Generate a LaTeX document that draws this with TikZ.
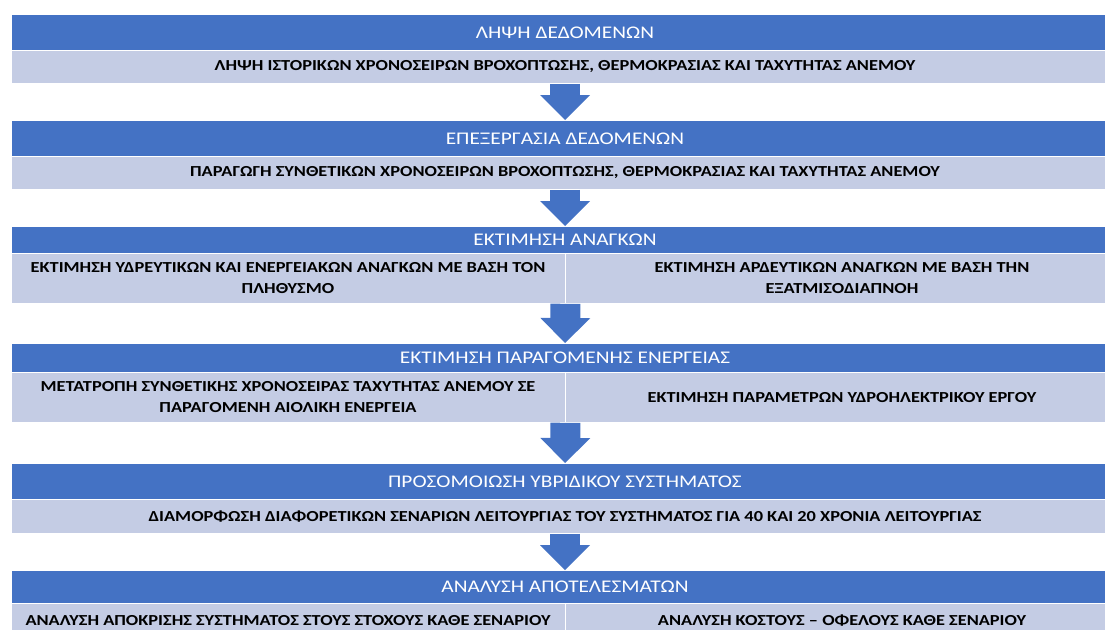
\documentclass[tikz,border=0pt]{standalone}
\usepackage{fontspec}
\setmainfont{Carlito}
\newfontfamily\widefont[FakeStretch=1.2]{Carlito}
\usetikzlibrary{arrows.meta}

\definecolor{hdrblue}{RGB}{68,114,196}
\definecolor{subblue}{RGB}{196,204,228}

\tikzset{
    band/.style={draw=white, line width=0.8pt, inner sep=0pt, anchor=north, align=center},
    hdr/.style={band, fill=hdrblue, text=white, minimum width=1108pt,
        font=\widefont\fontsize{17.8}{21}\selectfont},
    sub/.style={band, fill=subblue, text=black, minimum width=1108pt,
        font=\widefont\bfseries\fontsize{15.3}{21}\selectfont},
    half/.style={sub, minimum width=554pt},
    flow/.style={hdrblue, line width=30pt,
        -{Triangle[width=50pt, length=25pt, line width=0pt]}}
}

\begin{document}
\begin{tikzpicture}[x=1pt, y=-1pt]
    \useasboundingbox (0,0) rectangle (1105,629);

    \node[hdr, minimum height=36pt] (hd1) at (565,14) {ΛΗΨΗ ΔΕΔΟΜΕΝΩΝ};
    \node[sub, minimum height=33pt] (sb1) at (565,50)
        {ΛΗΨΗ ΙΣΤΟΡΙΚΩΝ ΧΡΟΝΟΣΕΙΡΩΝ ΒΡΟΧΟΠΤΩΣΗΣ, ΘΕΡΜΟΚΡΑΣΙΑΣ ΚΑΙ ΤΑΧΥΤΗΤΑΣ ΑΝΕΜΟΥ};

    \node[hdr, minimum height=36pt] (hd2) at (565,120) {ΕΠΕΞΕΡΓΑΣΙΑ ΔΕΔΟΜΕΝΩΝ};
    \node[sub, minimum height=33pt] (sb2) at (565,156)
        {ΠΑΡΑΓΩΓΗ ΣΥΝΘΕΤΙΚΩΝ ΧΡΟΝΟΣΕΙΡΩΝ ΒΡΟΧΟΠΤΩΣΗΣ, ΘΕΡΜΟΚΡΑΣΙΑΣ ΚΑΙ ΤΑΧΥΤΗΤΑΣ ΑΝΕΜΟΥ};

    \node[hdr, minimum height=27pt] (hd3) at (565,226) {ΕΚΤΙΜΗΣΗ ΑΝΑΓΚΩΝ};
    \node[half, minimum height=50pt] (sb3l) at (288,253)
        {ΕΚΤΙΜΗΣΗ ΥΔΡΕΥΤΙΚΩΝ ΚΑΙ ΕΝΕΡΓΕΙΑΚΩΝ ΑΝΑΓΚΩΝ ΜΕ ΒΑΣΗ ΤΟΝ\\ΠΛΗΘΥΣΜΟ};
    \node[half, minimum height=50pt] (sb3r) at (842,253)
        {ΕΚΤΙΜΗΣΗ ΑΡΔΕΥΤΙΚΩΝ ΑΝΑΓΚΩΝ ΜΕ ΒΑΣΗ ΤΗΝ\\ΕΞΑΤΜΙΣΟΔΙΑΠΝΟΗ};

    \node[hdr, minimum height=29pt] (hd4) at (565,343) {ΕΚΤΙΜΗΣΗ ΠΑΡΑΓΟΜΕΝΗΣ ΕΝΕΡΓΕΙΑΣ};
    \node[half, minimum height=50pt] (sb4l) at (288,372)
        {ΜΕΤΑΤΡΟΠΗ ΣΥΝΘΕΤΙΚΗΣ ΧΡΟΝΟΣΕΙΡΑΣ ΤΑΧΥΤΗΤΑΣ ΑΝΕΜΟΥ ΣΕ\\ΠΑΡΑΓΟΜΕΝΗ ΑΙΟΛΙΚΗ ΕΝΕΡΓΕΙΑ};
    \node[half, minimum height=50pt] (sb4r) at (842,372)
        {ΕΚΤΙΜΗΣΗ ΠΑΡΑΜΕΤΡΩΝ ΥΔΡΟΗΛΕΚΤΡΙΚΟΥ ΕΡΓΟΥ};

    \node[hdr, minimum height=36pt] (hd5) at (565,463) {ΠΡΟΣΟΜΟΙΩΣΗ ΥΒΡΙΔΙΚΟΥ ΣΥΣΤΗΜΑΤΟΣ};
    \node[sub, minimum height=34pt] (sb5) at (565,499)
        {ΔΙΑΜΟΡΦΩΣΗ ΔΙΑΦΟΡΕΤΙΚΩΝ ΣΕΝΑΡΙΩΝ ΛΕΙΤΟΥΡΓΙΑΣ ΤΟΥ ΣΥΣΤΗΜΑΤΟΣ ΓΙΑ 40 ΚΑΙ 20 ΧΡΟΝΙΑ ΛΕΙΤΟΥΡΓΙΑΣ};

    \node[hdr, minimum height=33pt] (hd6) at (565,570) {ΑΝΑΛΥΣΗ ΑΠΟΤΕΛΕΣΜΑΤΩΝ};
    \node[half, minimum height=34pt] (sb6l) at (288,603)
        {ΑΝΑΛΥΣΗ ΑΠΟΚΡΙΣΗΣ ΣΥΣΤΗΜΑΤΟΣ ΣΤΟΥΣ ΣΤΟΧΟΥΣ ΚΑΘΕ ΣΕΝΑΡΙΟΥ};
    \node[half, minimum height=34pt] (sb6r) at (842,603)
        {ΑΝΑΛΥΣΗ ΚΟΣΤΟΥΣ – ΟΦΕΛΟΥΣ ΚΑΘΕ ΣΕΝΑΡΙΟΥ};

    % arrows between the steps
    \draw[flow] (sb1.south) -- (hd2.north);
    \draw[flow] (sb2.south) -- (hd3.north);
    \draw[flow] (sb3l.south east) -- (hd4.north);
    \draw[flow] (sb4l.south east) -- (hd5.north);
    \draw[flow] (sb5.south) -- (hd6.north);
\end{tikzpicture}
\end{document}
